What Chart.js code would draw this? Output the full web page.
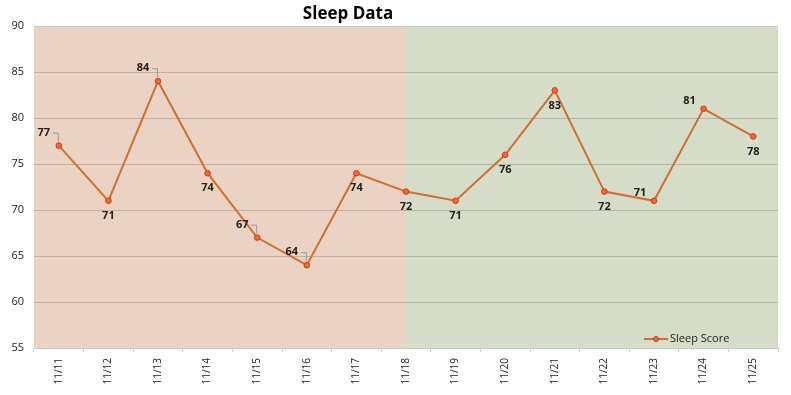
<!DOCTYPE html>
<html>
<head>
<meta charset="utf-8">
<script src="https://cdn.jsdelivr.net/npm/chart.js@4"></script>
<style>
  html, body { margin: 0; padding: 0; background: #fff; }
  #wrap { width: 791px; height: 395px; }
</style>
</head>
<body>
<div id="wrap"><canvas id="sleepChart" width="791" height="395"></canvas></div>
<script>
// chart data
const dates = ['11/11', '11/12', '11/13', '11/14', '11/15', '11/16', '11/17', '11/18',
  '11/19', '11/20', '11/21', '11/22', '11/23', '11/24', '11/25']
const sleepScores = [77, 71, 84, 74, 67, 64, 74, 72, 71, 76, 83, 72, 71, 81, 78]
const yTicks = [55, 60, 65, 70, 75, 80, 85, 90]
// where each data label sits relative to its point
const labelPlacement = ['leader', 'below', 'leader', 'below', 'leader', 'leader', 'below', 'below',
  'below', 'below', 'below', 'below', 'left', 'left', 'below']
const splitIndex = 7 // background switches colour at 11/18

const bgPlugin = {
  id: 'bands',
  beforeDraw(chart) {
    const { ctx, chartArea, scales } = chart
    const xSplit = scales.x.getPixelForValue(splitIndex)
    ctx.save()
    ctx.fillStyle = '#ebd3c4'
    ctx.fillRect(chartArea.left, chartArea.top, xSplit - chartArea.left, chartArea.bottom - chartArea.top)
    ctx.fillStyle = '#d5ddc8'
    ctx.fillRect(xSplit, chartArea.top, chartArea.right - xSplit, chartArea.bottom - chartArea.top)
    ctx.restore()
  },
  afterDraw(chart) {
    const { ctx, chartArea } = chart
    ctx.save()
    // title
    ctx.fillStyle = '#000'
    ctx.font = 'bold 17px "Open Sans", "DejaVu Sans", sans-serif'
    ctx.textAlign = 'center'
    ctx.textBaseline = 'middle'
    ctx.fillText('Sleep Data', 348, 14)

    // data labels
    const meta = chart.getDatasetMeta(0)
    ctx.font = 'bold 11px "Open Sans", "DejaVu Sans", sans-serif'
    meta.data.forEach((pt, i) => {
      const txt = String(sleepScores[i])
      const p = labelPlacement[i]
      ctx.fillStyle = '#222'
      if (p === 'below') {
        ctx.fillText(txt, pt.x, pt.y + 15)
      } else if (p === 'left') {
        ctx.fillText(txt, pt.x - 14, pt.y - 8)
      } else {
        const lx = pt.x - 15
        const ly = pt.y - 13
        ctx.fillText(txt, lx, ly)
        ctx.strokeStyle = '#a09890'
        ctx.lineWidth = 1
        ctx.beginPath()
        ctx.moveTo(lx + 9, ly + 0.5)
        ctx.lineTo(pt.x - 0.5, ly + 0.5)
        ctx.lineTo(pt.x - 0.5, pt.y - 4)
        ctx.stroke()
      }
    })

    // legend inside plot, bottom right
    const ly = chartArea.bottom - 9
    ctx.strokeStyle = '#d0702a'
    ctx.lineWidth = 2
    ctx.beginPath()
    ctx.moveTo(644, ly)
    ctx.lineTo(668, ly)
    ctx.stroke()
    ctx.fillStyle = '#e8702a'
    ctx.strokeStyle = '#e03020'
    ctx.lineWidth = 1
    ctx.beginPath()
    ctx.arc(656, ly, 2.5, 0, Math.PI * 2)
    ctx.fill()
    ctx.stroke()
    ctx.fillStyle = '#222'
    ctx.font = '11px "Open Sans", "DejaVu Sans", sans-serif'
    ctx.textAlign = 'left'
    ctx.fillText('Sleep Score', 670, ly)
    ctx.restore()
  },
}

const ctx = document.getElementById('sleepChart').getContext('2d')
new Chart(ctx, {
  type: 'line',
  data: {
    labels: dates,
    datasets: [
      {
        label: 'Sleep Score',
        data: sleepScores,
        borderColor: '#d0702a',
        borderWidth: 2,
        pointRadius: 2.8,
        pointBackgroundColor: '#e8702a',
        pointBorderColor: '#e03020',
        pointBorderWidth: 1,
        tension: 0,
      },
    ],
  },
  options: {
    responsive: false,
    animation: false,
    layout: { padding: { top: 26, right: 13, left: 0, bottom: 0 } },
    scales: {
      x: {
        offset: true,
        grid: {
          display: true,
          drawOnChartArea: false,
          offset: true,
          tickLength: 4,
          color: '#d0d0d0',
        },
        border: { color: '#c8c8c8' },
        ticks: {
          minRotation: 90,
          maxRotation: 90,
          color: '#222',
          font: { size: 10, family: '"Open Sans", "DejaVu Sans", sans-serif' },
          padding: 6,
        },
        afterFit(scale) { scale.height = 47 },
      },
      y: {
        min: 55,
        max: 90,
        afterBuildTicks(scale) { scale.ticks = yTicks.map((v) => ({ value: v })) },
        grid: {
          color: (c) => (c.tick && c.tick.value === 90 ? '#c8c8c8' : 'rgba(80, 70, 55, 0.25)'),
          drawTicks: false,
        },
        border: { display: false },
        ticks: {
          color: '#222',
          padding: 10,
          font: { size: 11, family: '"Open Sans", "DejaVu Sans", sans-serif' },
        },
        afterFit(scale) { scale.width = 34 },
      },
    },
    plugins: {
      legend: { display: false },
      title: { display: false },
      tooltip: { enabled: false },
    },
  },
  plugins: [bgPlugin],
})
</script>
</body>
</html>
